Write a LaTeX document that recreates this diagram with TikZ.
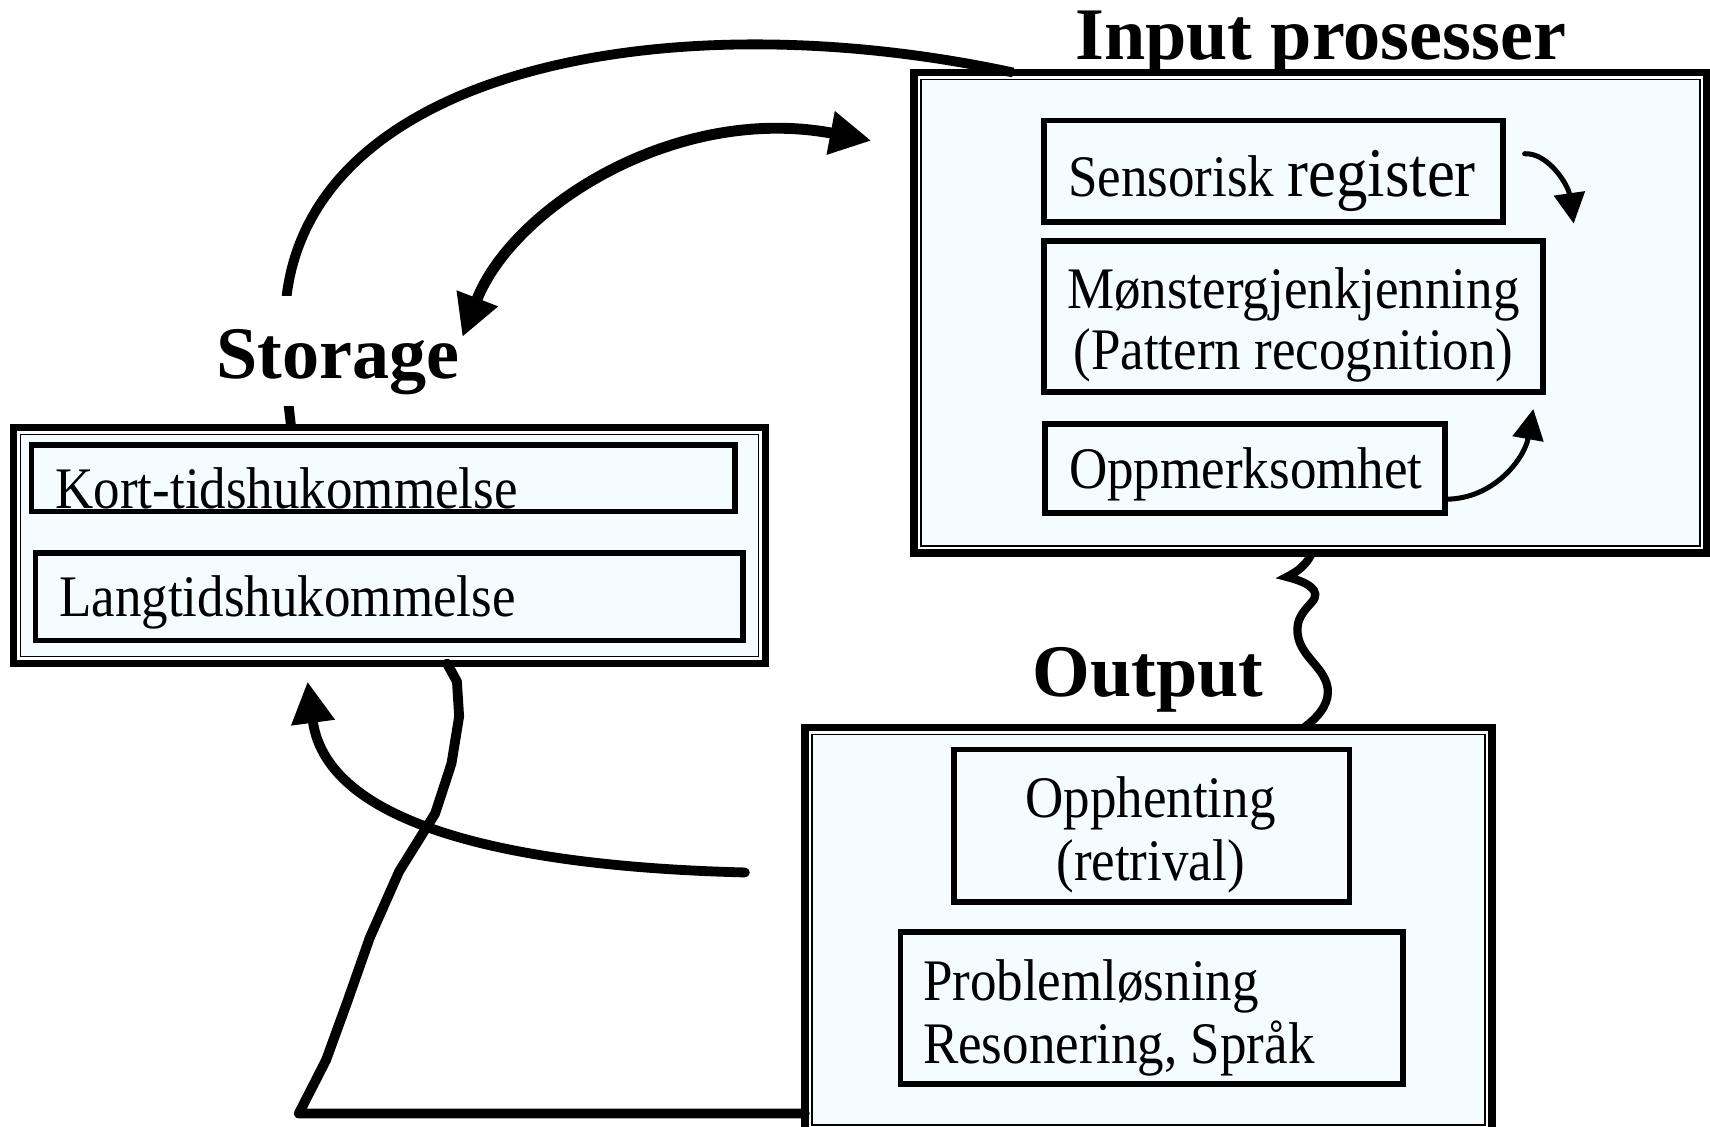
\documentclass[tikz,border=0pt]{standalone}
\usepackage{fontspec}
\setmainfont{Liberation Serif}
\newfontfamily\bodyf[FakeStretch=0.9]{Liberation Serif}
\usetikzlibrary{arrows.meta,calc}
\definecolor{boxfill}{RGB}{245,252,255}
\newcommand\mkbox[6]{%
  \pgfmathsetmacro\bw{(#5-#3)*0.5}\pgfmathsetmacro\bh{(#6-#4)*0.5}%
  \node[#1, minimum width=\bw pt, minimum height=\bh pt] (#2) at ({(#3+#5)/2},{(#4+#6)/2}) {};}
\newcommand\dblline[1]{%
  \draw[innerline] ([shift={(3.2pt,-3.2pt)}]#1.north west) rectangle ([shift={(-3.2pt,3.2pt)}]#1.south east);}
\begin{document}
\begin{tikzpicture}[x=0.5pt,y=-0.5pt,
  bigbox/.style={draw, line width=3.4pt, fill=white, outer sep=0pt, inner sep=0pt},
  innerline/.style={draw, line width=0.7pt, fill=boxfill},
  smallbox/.style={draw, line width=2.6pt, fill=boxfill, outer sep=0pt, inner sep=0pt},
  txt/.style={font=\bodyf\fontsize{27}{32}\selectfont, inner sep=0pt},
  head/.style={font=\bfseries\fontsize{34}{40}\selectfont, inner sep=0pt},
  conn/.style={line width=4.5pt},
  bigtip/.style={-{Triangle[length=19pt,width=19pt]}},
  smalltip/.style={line width=2.3pt, -{Triangle[length=14pt,width=14pt]}}]
\fill[white] (0,0) rectangle (1568,1033);
\useasboundingbox (0,0) rectangle (1568,1033);

% big boxes
\mkbox{bigbox}{inp}{838}{66.5}{1565}{507}
\dblline{inp}
\mkbox{bigbox}{stor}{12.5}{392}{702}{608.5}
\dblline{stor}
\mkbox{bigbox}{out}{738}{667}{1368}{1038}
\dblline{out}

% inner boxes
\mkbox{smallbox}{sens}{957}{110.6}{1378}{203.3}
\mkbox{smallbox}{mon}{957}{220.7}{1415}{359.7}
\mkbox{smallbox}{opp}{958}{388.8}{1325}{470.7}
\mkbox{smallbox}{kort}{29}{408}{674}{469}
\mkbox{smallbox}{lang}{32.7}{506.8}{681}{587.4}
\mkbox{smallbox}{opph}{874.6}{687.3}{1237.3}{826.9}
\mkbox{smallbox}{prob}{825.6}{854.8}{1286.3}{994.2}

% texts
\node[txt, anchor=base west] (senstxt) at (979,180) {Sensorisk {\fontsize{32}{38}\selectfont register}};
\node[txt, anchor=base] (mon1) at (1186,283) {Mønstergjenkjenning};
\node[txt, anchor=base] (mon2) at (1186,339) {(Pattern recognition)};
\node[txt, anchor=base west] (opptxt) at (980,448) {Oppmerksomhet};
\node[txt, anchor=base west] (korttxt) at (50.5,466) {Kort-tidshukommelse};
\node[txt, anchor=base west] (langtxt) at (54,565) {Langtidshukommelse};
\node[txt, anchor=base] (opph1) at (1055,750) {Opphenting};
\node[txt, anchor=base] (opph2) at (1055,807) {(retrival)};
\node[txt, anchor=base west] (prob1) at (846,917) {Problemløsning};
\node[txt, anchor=base west] (prob2) at (846,975) {Resonering, Språk};

% headings
\node[head, anchor=base] (inphead) at (1211,55) {Input prosesser};
\node[head, anchor=base] (outhead) at (1052.5,639) {Output};

% big arc storage -> input (behind the Storage label)
\draw[conn] ([xshift=127.25pt]stor.north west) .. controls (261,340) .. (263,270)
  .. controls (290,60) and (620,0) .. ([xshift=45.5pt]inp.north west);
\node[head, anchor=base, fill=white, text height=38pt, text depth=12.5pt] (storhead) at (310,347) {Storage};

% double arrow
\coordinate (dlow) at (424,309);
\coordinate (dhigh) at ([shift={(-19.5pt,-31.25pt)}]inp.north west);
\draw[line width=5pt, {Triangle[length=19pt,width=19pt]}-{Triangle[length=19pt,width=19pt]}]
  (dlow) .. controls (470,190) and (620,95) .. (dhigh);

% wavy link input -> output
\draw[line width=3.8pt, line join=miter]
  ([xshift=0.75pt]inp.south) .. controls (1198,518) and (1190,524) .. (1180,529)
  .. controls (1200,534) and (1212,542) .. (1203,552)
  .. controls (1195,561) and (1188,568) .. (1190,582)
  .. controls (1193,605) and (1222,615) .. (1217,640)
  .. controls (1214,652) and (1205,660) .. ([xshift=71.5pt]out.north);

% arrow output -> storage
\coordinate (c4) at (683,800);
\draw[conn, bigtip, line cap=round] (c4) .. controls (480,795) and (300,760) .. ([shift={(134.75pt,-8.25pt)}]stor.south west);

% line storage -> output (bottom left)
\draw[conn, line join=round, line cap=round] ([xshift=198.75pt]stor.south west) -- (419,625) -- (421,657) -- (414,700)
  -- (399,746) -- (366,799) -- (339,860) -- (319,917) -- (299,972) -- (274,1021)
  -- ([yshift=-84.25pt]out.west);

% small arrows inside input
\coordinate (t1) at (1443,205);
\draw[smalltip, line cap=round] ([shift={(10pt,8pt)}]sens.east) .. controls (1420,140) and (1438,170) .. (t1);
\coordinate (t2) at (1406,375);
\draw[smalltip] ([yshift=-14pt]opp.east) .. controls (1370,458) and (1398,420) .. (t2);
\end{tikzpicture}
\end{document}
